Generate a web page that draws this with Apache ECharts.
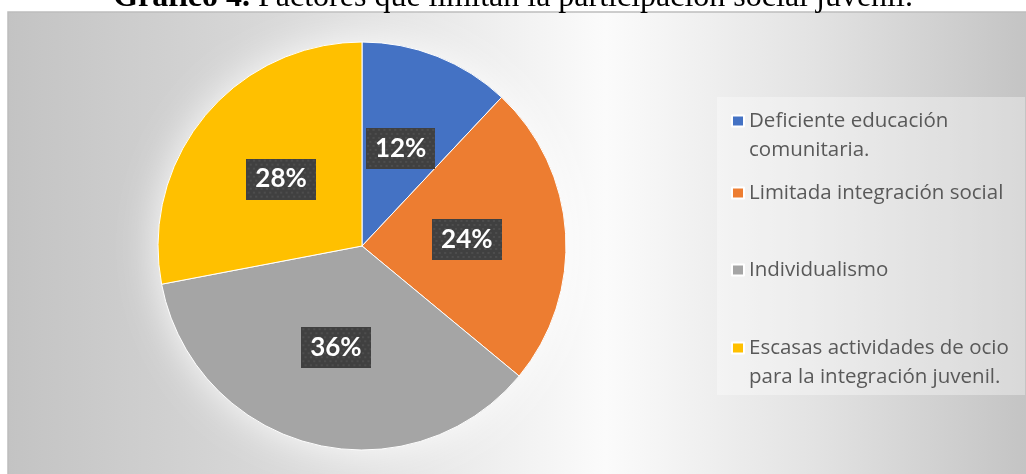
<!DOCTYPE html>
<html>
<head>
<meta charset="utf-8">
<script src="https://cdn.jsdelivr.net/npm/echarts@6/dist/echarts.min.js"></script>
<style>
html,body{margin:0;padding:0;background:#fff;}
#chart{width:1026px;height:474px;}
</style>
</head>
<body>
<div id="chart"></div>
<script>
var categories = [
  "Deficiente educación\ncomunitaria.",
  "Limitada integración social",
  "Individualismo",
  "Escasas actividades de ocio\npara la integración juvenil."
];
var values = [12, 24, 36, 28];
var colors = ["#4472C4", "#ED7D31", "#A5A5A5", "#FFC000"];

// dotted dark label background
function makeLabelBg() {
  var c = document.createElement('canvas');
  c.width = 64; c.height = 41;
  var g = c.getContext('2d');
  g.fillStyle = '#404040';
  g.fillRect(0, 0, 64, 41);
  g.fillStyle = '#4d4d4d';
  for (var y = 1, r = 0; y < 41; y += 4, r++) {
    for (var x = (r % 2) * 2 + 1; x < 64; x += 5) {
      g.fillRect(x, y, 2, 2);
    }
  }
  return c;
}
var labelBg = makeLabelBg();

var chart = echarts.init(document.getElementById('chart'));

var legendTops = [77.5, 178.5, 255.5, 304.5];
var legends = categories.map(function (name, i) {
  return {
    data: [name],
    orient: 'vertical',
    left: 731,
    top: legendTops[i],
    padding: 0,
    itemWidth: 12,
    itemHeight: 11,
    icon: 'rect',
    selectedMode: false,
    formatter: function (n) {
      return n.indexOf('\n') >= 0 ? '\n' + n : n;
    },
    textStyle: {
      fontFamily: 'Open Sans',
      fontSize: 20.5,
      color: '#595959',
      lineHeight: 29
    }
  };
});

var option = {
  animation: false,
  color: colors,
  title: {
    text: '{b|Gráfico 4.} Factores que limitan la participación social juvenil.',
    left: 'center',
    top: -18,
    padding: 0,
    textStyle: {
      fontFamily: 'Liberation Serif',
      fontSize: 32,
      fontWeight: 'normal',
      color: '#000',
      lineHeight: 32,
      rich: {
        b: { fontFamily: 'Liberation Serif', fontSize: 32, fontWeight: 'bold', color: '#000', lineHeight: 32 }
      }
    }
  },
  graphic: [
    {
      type: 'rect',
      z: -10,
      silent: true,
      shape: { x: 8, y: 12, width: 1030, height: 470 },
      style: {
        fill: {
          type: 'linear', x: 0, y: 0, x2: 1, y2: 0,
          colorStops: [
            { offset: 0, color: '#c3c3c3' },
            { offset: 0.3, color: '#dcdcdc' },
            { offset: 0.58, color: '#fbfbfb' },
            { offset: 0.78, color: '#e3e3e3' },
            { offset: 1, color: '#c2c2c2' }
          ]
        },
        stroke: '#bdbdbd',
        lineWidth: 1.5
      }
    },
    {
      type: 'rect',
      z: -9,
      silent: true,
      shape: { x: 717, y: 97, width: 308, height: 298 },
      style: { fill: 'rgba(255,255,255,0.35)' }
    }
  ],
  legend: legends,
  series: [
    {
      type: 'pie',
      silent: true,
      z: 1,
      center: [362, 246],
      radius: 204,
      label: { show: false },
      labelLine: { show: false },
      itemStyle: {
        color: '#e8e8e8',
        shadowBlur: 40,
        shadowColor: 'rgba(255,255,255,0.9)'
      },
      data: [{ value: 1, name: '__halo' }]
    },
    {
      type: 'pie',
      z: 2,
      center: [362, 246],
      radius: 204,
      startAngle: 90,
      clockwise: true,
      itemStyle: { borderColor: '#ffffff', borderWidth: 1 },
      label: {
        show: true,
        position: 'inside',
        formatter: '{c}%',
        color: '#ffffff',
        fontFamily: 'Lato',
        fontWeight: 'bold',
        fontSize: 26,
        lineHeight: 27,
        backgroundColor: { image: labelBg },
        padding: [7, 9],
        shadowColor: 'rgba(0,0,0,0.45)',
        shadowBlur: 8,
        shadowOffsetX: 3,
        shadowOffsetY: 3
      },
      labelLine: { show: false },
      emphasis: { disabled: true },
      data: categories.map(function (n, i) {
        return { name: n, value: values[i], itemStyle: { color: colors[i] } };
      })
    }
  ]
};
chart.setOption(option);
</script>
</body>
</html>
